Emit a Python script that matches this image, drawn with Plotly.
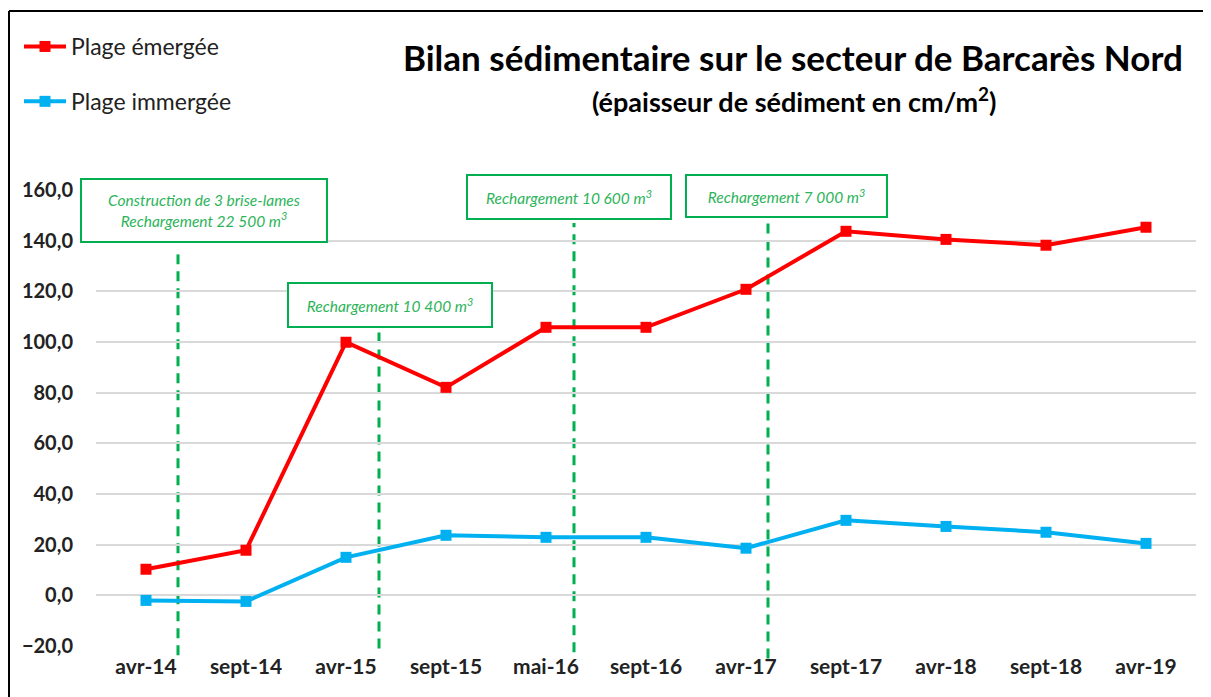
import plotly.graph_objects as go

categories = ["avr-14", "sept-14", "avr-15", "sept-15", "mai-16", "sept-16",
              "avr-17", "sept-17", "avr-18", "sept-18", "avr-19"]
plage_emergee = [10.3, 17.8, 99.9, 82.1, 105.8, 105.8, 120.8, 143.7, 140.5, 138.2, 145.3]
plage_immergee = [-2.0, -2.4, 15.0, 23.7, 22.9, 22.9, 18.6, 29.6, 27.2, 24.9, 20.5]
y_ticks = [-20, 0, 20, 40, 60, 80, 100, 120, 140, 160]
Y_MIN, Y_MAX = -20, 160

# events: position on the category axis, dashed line extent, label, box geometry
event_x = [0.32, 2.33, 4.28, 6.22]
event_top = [137, 104.5, 147, 149]
event_bottom = [-23.7, -21, -22.5, -24.9]
event_labels = ["<i>Construction de 3 brise-lames<br>Rechargement 22 500 m<sup>3</sup></i>",
                "<i>Rechargement 10 400 m<sup>3</sup></i>",
                "<i>Rechargement 10 600 m<sup>3</sup></i>",
                "<i>Rechargement 7 000 m<sup>3</sup></i>"]
box_x = [0.58, 2.44, 4.23, 6.405]
box_y = [151.8, 114.5, 157.1, 157.5]
box_w = [244, 202, 202, 199]
box_h = [61, 42, 42, 40]

RED = "#FF0000"
BLUE = "#00B0F0"
GREEN = "#00B050"
FONT = "Lato"

fig = go.Figure()
fig.add_trace(go.Scatter(x=categories, y=plage_emergee, name="Plage émergée",
                         mode="lines+markers", legendgroup="a",
                         line=dict(color=RED, width=4),
                         marker=dict(symbol="square", size=11, color=RED)))
fig.add_trace(go.Scatter(x=categories, y=plage_immergee, name="Plage immergée",
                         mode="lines+markers", legendgroup="b",
                         line=dict(color=BLUE, width=4),
                         marker=dict(symbol="square", size=11, color=BLUE)))


def to_paper(v):
    return (v - Y_MIN) / (Y_MAX - Y_MIN)


shapes = []
for x, t, b in zip(event_x, event_top, event_bottom):
    # y in paper units so the dashes may run slightly below the axis like the original
    shapes.append(dict(type="line", xref="x", yref="paper", x0=x, x1=x,
                       y0=to_paper(b), y1=to_paper(t),
                       line=dict(color=GREEN, width=3, dash="10px,7px"), layer="below"))
# outer frame (left and top)
shapes.append(dict(type="line", xref="paper", yref="paper", x0=-0.0791, x1=1.05,
                   y0=1.3925, y1=1.3925, line=dict(color="black", width=2)))
shapes.append(dict(type="line", xref="paper", yref="paper", x0=-0.0791, x1=-0.0791,
                   y0=-0.2, y1=1.3925, line=dict(color="black", width=2)))

annotations = []
for lbl, x, y, w, h in zip(event_labels, box_x, box_y, box_w, box_h):
    annotations.append(dict(text=lbl, x=x, y=y, xref="x", yref="y", showarrow=False,
                            width=w, height=h, bgcolor="white", bordercolor=GREEN,
                            borderwidth=2, borderpad=0,
                            font=dict(family=FONT, size=15.5, color="#2DB45A")))
annotations.append(dict(text="<b>Bilan sédimentaire sur le secteur de Barcarès Nord</b>",
                        x=(793 - 96) / 1100, y=(646 - 57) / 456, xref="paper", yref="paper",
                        showarrow=False, xanchor="center", yanchor="middle",
                        font=dict(family=FONT, size=35, color="black")))
annotations.append(dict(text="<b>(épaisseur de sédiment en cm/m<sup>2</sup>)</b>",
                        x=(794 - 96) / 1100, y=(646 - 100) / 456, xref="paper", yref="paper",
                        showarrow=False, xanchor="center", yanchor="middle",
                        font=dict(family=FONT, size=27, color="black")))

# the page body has an 8px margin: the figure is sized so that it ends at the window edge
fig.update_layout(
    width=1203, height=689,
    margin=dict(l=88, r=15, t=182, b=51, autoexpand=False),
    paper_bgcolor="white", plot_bgcolor="white",
    separators=", ",
    font=dict(family=FONT, color="#222222"),
    showlegend=True,
    legend=dict(x=(19 - 96) / 1100, y=(646 - 25) / 456, xanchor="left", yanchor="top",
                font=dict(family=FONT, size=23, color="#222222"),
                tracegroupgap=22, bgcolor="rgba(0,0,0,0)", itemwidth=42),
    shapes=shapes,
    annotations=annotations,
)
fig.update_xaxes(type="category", range=[-0.5, 10.5], showgrid=False, showline=False,
                 zeroline=False,
                 tickfont=dict(family=FONT, size=21, color="#222222", weight="bold"),
                 ticklabelstandoff=6)
fig.update_yaxes(range=[Y_MIN, Y_MAX], tickvals=y_ticks, tickformat=".1f",
                 showgrid=True, gridcolor="#D9D9D9", gridwidth=1.5,
                 zeroline=False, showline=False,
                 tickfont=dict(family=FONT, size=20, color="#222222", weight="bold"),
                 ticklabelstandoff=22)
fig.update_traces(cliponaxis=False)

fig.write_html("out.html")
